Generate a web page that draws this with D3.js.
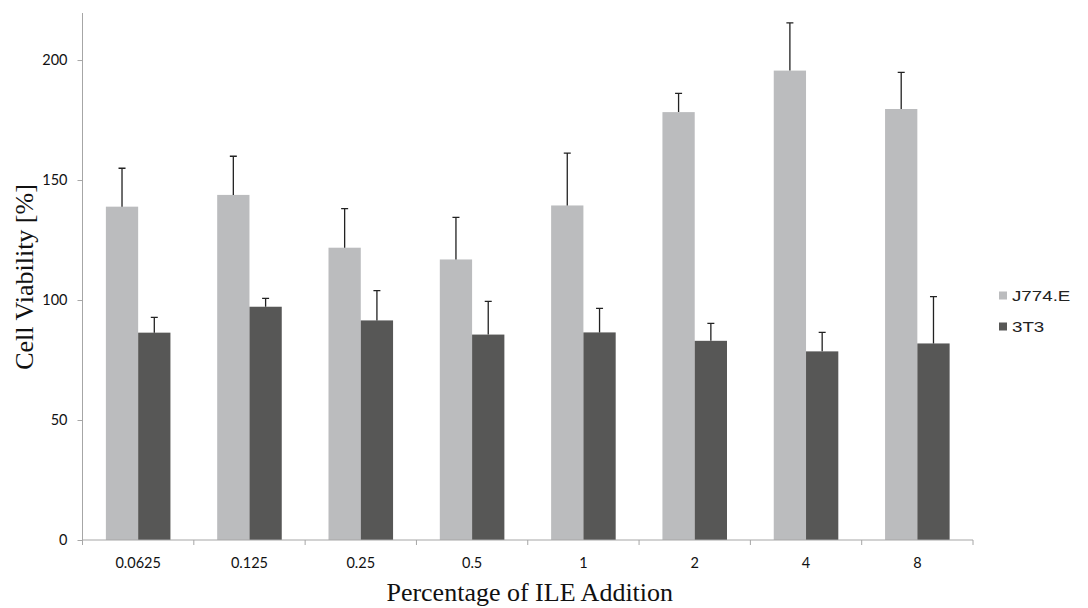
<!DOCTYPE html>
<html lang="en">
<head>
  <meta charset="utf-8">
  <title>Cell Viability</title>
  <script src="https://d3js.org/d3.v7.min.js"></script>
  <style>
    body { margin: 0; background: #fff; }
  </style>
</head>
<body>
  <div id="chart"></div>
<script>
  const categories = ["0.0625", "0.125", "0.25", "0.5", "1", "2", "4", "8"]
  const seriesNames = ["J774.E", "3T3"]
  const j774Values = [138.9, 143.8, 121.8, 116.9, 139.4, 178.3, 195.6, 179.6]
  const j774Errors = [16.0, 16.1, 16.3, 17.5, 21.8, 7.8, 19.9, 15.3]
  const t3Values = [86.4, 97.2, 91.5, 85.6, 86.5, 83.0, 78.6, 81.9]
  const t3Errors = [6.4, 3.5, 12.4, 13.8, 10.0, 7.3, 7.9, 19.5]
  const yTicks = [0, 50, 100, 150, 200]
  const colors = ["#bbbcbe", "#575756"]

  const width = 1088, height = 608
  const margin = { top: 13, right: 115, bottom: 68, left: 82.5 }
  const innerW = width - margin.left - margin.right
  const innerH = height - margin.top - margin.bottom

  const svg = d3.select("#chart")
    .append("svg")
    .attr("width", width)
    .attr("height", height)

  const g = svg.append("g")
    .attr("transform", `translate(${margin.left}, ${margin.top})`)

  const x = d3.scaleBand()
    .domain(categories)
    .range([0, innerW])
    .paddingInner(0.42)
    .paddingOuter(0.21)

  const x1 = d3.scaleBand()
    .domain(seriesNames)
    .range([0, x.bandwidth()])

  const y = d3.scaleLinear()
    .domain([0, 219.6])
    .range([innerH, 0])

  // data table built from the arrays
  const rows = categories.map((c, i) => ({
    cat: c,
    vals: [
      { s: seriesNames[0], v: j774Values[i], e: j774Errors[i] },
      { s: seriesNames[1], v: t3Values[i], e: t3Errors[i] }
    ]
  }))

  const axisColor = "#a6a6a6"

  // Y axis
  const yAxis = g.append("g")
    .call(d3.axisLeft(y).tickValues(yTicks).tickSize(5).tickPadding(10))
  yAxis.select(".domain").attr("stroke", axisColor).attr("d", `M0,0V${innerH}`)
  yAxis.selectAll(".tick line").attr("stroke", axisColor)
  yAxis.selectAll("text")
    .attr("fill", "#111")
    .style("font-family", "Lato, 'Open Sans', sans-serif")
    .style("font-size", "14.5px")

  // groups of bars
  const groups = g.append("g")
    .selectAll("g")
    .data(rows)
    .join("g")
    .attr("transform", d => `translate(${x(d.cat)}, 0)`)

  groups.selectAll("rect")
    .data(d => d.vals)
    .join("rect")
    .attr("x", d => x1(d.s))
    .attr("y", d => y(d.v))
    .attr("width", x1.bandwidth())
    .attr("height", d => innerH - y(d.v))
    .attr("fill", (d, i) => colors[i])

  // error bars (upper only)
  groups.selectAll("path.err")
    .data(d => d.vals)
    .join("path")
    .attr("class", "err")
    .attr("fill", "none")
    .attr("stroke", "#222")
    .attr("stroke-width", 1.3)
    .attr("d", d => {
      const cx = x1(d.s) + x1.bandwidth() / 2
      const top = y(d.v + d.e)
      return `M${cx},${y(d.v)}V${top}M${cx - 3.5},${top}H${cx + 3.5}`
    })

  // X axis with ticks at category boundaries
  const xg = g.append("g")
    .attr("transform", `translate(0, ${innerH})`)
  xg.append("line")
    .attr("x1", 0).attr("x2", innerW)
    .attr("stroke", axisColor)
  const step = x.step()
  const boundaries = d3.range(categories.length + 1).map(i => i * step)
  xg.selectAll("line.tk")
    .data(boundaries)
    .join("line")
    .attr("class", "tk")
    .attr("x1", d => d).attr("x2", d => d)
    .attr("y1", 0).attr("y2", 5)
    .attr("stroke", axisColor)
  xg.selectAll("text")
    .data(categories)
    .join("text")
    .attr("x", d => x(d) + x.bandwidth() / 2)
    .attr("y", 28)
    .attr("text-anchor", "middle")
    .attr("fill", "#111")
    .style("font-family", "Lato, 'Open Sans', sans-serif")
    .style("font-size", "14.5px")
    .text(d => d)

  // axis titles
  svg.append("text")
    .attr("x", margin.left + innerW / 2 + 2)
    .attr("y", 601)
    .attr("text-anchor", "middle")
    .attr("fill", "#111")
    .style("font-family", "'Liberation Serif', 'DejaVu Serif', serif")
    .style("font-size", "26px")
    .text("Percentage of ILE Addition")

  svg.append("text")
    .attr("transform", `translate(33, 277) rotate(-90)`)
    .attr("text-anchor", "middle")
    .attr("fill", "#111")
    .style("font-family", "'Liberation Serif', 'DejaVu Serif', serif")
    .style("font-size", "26px")
    .text("Cell Viability [%]")

  // legend
  const legend = svg.append("g")
    .attr("transform", "translate(999, 295.5)")
  const li = legend.selectAll("g")
    .data(seriesNames)
    .join("g")
    .attr("transform", (d, i) => `translate(0, ${i * 31})`)
  li.append("rect")
    .attr("x", 0).attr("y", -4)
    .attr("width", 8).attr("height", 8)
    .attr("fill", (d, i) => colors[i])
  li.append("text")
    .attr("transform", "translate(13, 0) scale(1.25, 1)")
    .attr("dy", "0.36em")
    .attr("fill", "#222")
    .style("font-family", "'Liberation Sans', Arial, sans-serif")
    .style("font-size", "15px")
    .text(d => d)
</script>
</body>
</html>
